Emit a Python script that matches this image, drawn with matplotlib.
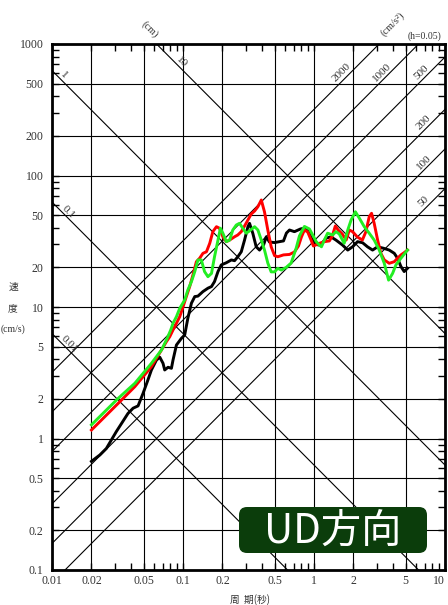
import matplotlib
matplotlib.use("Agg")
import matplotlib.pyplot as plt
import numpy as np
from matplotlib.patches import FancyBboxPatch
from matplotlib.ticker import FixedLocator, LogLocator, NullFormatter
from matplotlib.transforms import IdentityTransform

# response spectra (period [s], pseudo velocity [cm/s])
black_T = [0.02, 0.0232, 0.026, 0.031, 0.038, 0.0416, 0.0454, 0.0496, 0.054, 0.0574,
           0.0627, 0.0665, 0.0704, 0.0725, 0.0769, 0.0816, 0.0839, 0.0891, 0.0973, 0.103,
           0.109, 0.116, 0.123, 0.130, 0.142, 0.155, 0.165, 0.174, 0.185, 0.196,
           0.214, 0.234, 0.2475, 0.262, 0.2785, 0.295, 0.313, 0.322, 0.341, 0.362,
           0.384, 0.412, 0.432, 0.457, 0.50, 0.545, 0.585, 0.616, 0.65, 0.709,
           0.788, 0.855, 0.906, 0.955, 1.007, 1.08, 1.14, 1.24, 1.35, 1.47,
           1.65, 1.81, 1.97, 2.15, 2.35, 2.56, 2.80, 3.06, 3.38, 3.75,
           4.10, 4.34, 4.61, 4.88, 5.17]
black_SV = [0.67, 0.75, 0.84, 1.13, 1.55, 1.70, 1.77, 2.21, 2.79, 3.32,
            3.95, 4.15, 3.73, 3.32, 3.48, 3.42, 3.95, 5.14, 5.78, 6.12,
            8.25, 10.7, 12.0, 12.1, 13.1, 13.9, 14.3, 15.6, 18.6, 20.9,
            21.7, 22.8, 22.5, 24.1, 26.3, 32.3, 40.8, 43.3, 36.4, 28.7,
            27.1, 29.6, 34.2, 31.2, 30.9, 31.4, 31.8, 36.5, 38.5, 37.4,
            39.2, 39.9, 37.4, 33.5, 30.7, 29.6, 30.1, 33.5, 34.1, 32.3,
            29.6, 27.1, 28.7, 31.4, 30.8, 28.7, 27.1, 28.7, 28.0, 27.1,
            25.6, 23.5, 20.3, 18.6, 19.7]

red_T = [0.02, 0.032, 0.0429, 0.0574, 0.0685, 0.0747, 0.0792, 0.0839, 0.0891, 0.0944,
         0.1, 0.106, 0.1125, 0.119, 0.1265, 0.134, 0.142, 0.151, 0.160, 0.169,
         0.180, 0.190, 0.2016, 0.214, 0.227, 0.2475, 0.262, 0.2785, 0.295, 0.313,
         0.332, 0.352, 0.373, 0.396, 0.419, 0.444, 0.471, 0.50, 0.529, 0.585,
         0.65, 0.709, 0.761, 0.802, 0.845, 0.895, 0.95, 0.99, 1.10, 1.20,
         1.31, 1.38, 1.455, 1.53, 1.645, 1.76, 1.86, 1.97, 2.14, 2.34,
         2.49, 2.64, 2.75, 2.88, 3.06, 3.24, 3.44, 3.75, 4.10, 4.34,
         4.61, 4.88, 5.17]
red_SV = [1.16, 1.85, 2.48, 3.52, 4.71, 5.45, 5.94, 6.69, 7.52, 8.44,
          10.0, 12.0, 14.3, 17.5, 22.1, 23.5, 25.6, 26.3, 30.5, 37.4,
          40.8, 39.7, 34.2, 31.4, 32.3, 34.2, 35.3, 37.4, 41.3, 45.9,
          51.0, 53.7, 57.9, 65.1, 52.8, 38.5, 28.7, 24.6, 24.1, 24.9,
          25.1, 26.2, 29.1, 34.1, 38.5, 37.2, 32.3, 29.1, 30.5, 31.4,
          31.8, 34.7, 41.3, 38.5, 35.9, 32.3, 38.5, 37.4, 34.1, 32.3,
          37.4, 48.6, 51.6, 43.3, 32.3, 25.6, 22.8, 21.5, 22.1, 23.5,
          24.9, 25.9, 27.1]

green_T = [0.02, 0.032, 0.0429, 0.0574, 0.0685, 0.0747, 0.0806, 0.0839, 0.0891, 0.0944,
           0.103, 0.109, 0.116, 0.123, 0.130, 0.138, 0.146, 0.155, 0.165, 0.174,
           0.185, 0.193, 0.2016, 0.214, 0.227, 0.240, 0.255, 0.270, 0.286, 0.304,
           0.322, 0.352, 0.373, 0.396, 0.419, 0.444, 0.471, 0.50, 0.529, 0.562,
           0.613, 0.669, 0.731, 0.774, 0.845, 0.923, 0.977, 1.04, 1.10, 1.14,
           1.20, 1.27, 1.39, 1.47, 1.56, 1.70, 1.81, 1.92, 2.07, 2.22,
           2.42, 2.64, 2.88, 3.15, 3.44, 3.71, 3.98, 4.22, 4.61, 5.17]
green_SV = [1.27, 2.02, 2.63, 3.73, 4.71, 5.61, 6.69, 7.52, 8.44, 9.77,
            11.3, 13.5, 15.6, 18.6, 22.8, 22.8, 18.6, 17.0, 18.0, 24.1,
            32.3, 39.7, 36.4, 31.4, 32.3, 38.5, 42.0, 43.3, 39.7, 36.4,
            37.9, 40.8, 38.5, 32.3, 27.1, 21.6, 18.5, 18.5, 19.7, 19.1,
            20.0, 21.6, 28.0, 34.7, 41.0, 39.2, 35.3, 31.4, 29.6, 28.7,
            32.3, 36.4, 35.3, 37.4, 35.9, 30.5, 38.5, 45.9, 53.0, 47.3,
            40.8, 36.4, 32.3, 27.1, 21.5, 16.0, 18.0, 20.9, 23.5, 27.1]

# axes ticks and tripartite grid
x_ticks = [0.01, 0.02, 0.05, 0.1, 0.2, 0.5, 1, 2, 5, 10]
x_labels = ["0.01", "0.02", "0.05", "0.1", "0.2", "0.5", "1", "2", "5", "10"]
y_ticks = [0.1, 0.2, 0.5, 1, 2, 5, 10, 20, 50, 100, 200, 500, 1000]
y_labels = ["0.1", "0.2", "0.5", "1", "2", "5", "10", "20", "50", "100", "200", "500", "1000"]
disp_cm = [0.01, 0.1, 1, 10]
disp_label_T = [0.0128, 0.0126, 0.0115, 0.092]
acc_gal = [50, 100, 200, 500, 1000, 2000]
acc_label_T = [7.4, 7.4, 7.4, 7.1, 3.55, 1.76]

SERIF = "Liberation Serif"
CJK = ["Noto Sans CJK JP", "DejaVu Sans"]
TXT = "#333333"

W, H = 448, 605
fig = plt.figure(figsize=(W / 100, H / 100), dpi=100)
ax = fig.add_axes([52 / W, 1 - 570 / H, 393 / W, 526 / H])
ax.set_xscale("log")
ax.set_yscale("log")
ax.set_xlim(0.01, 10)
ax.set_ylim(0.1, 1000)

# diagonal lines: displacement (SV = 2piD/T) and acceleration (SV = AT/2pi)
T_line = np.array([0.01, 10.0])
for d in disp_cm:
    ax.plot(T_line, 2 * np.pi * d / T_line, color="black", lw=0.8, zorder=1)
for a in acc_gal:
    ax.plot(T_line, a * T_line / (2 * np.pi), color="black", lw=0.8, zorder=1)

for d, t in zip(disp_cm, disp_label_T):
    ax.annotate(f"{d:g}", xy=(t, 2 * np.pi * d / t), xytext=(2.5, 2.5),
                textcoords="offset points", rotation=-45, rotation_mode="anchor",
                ha="center", va="center", fontsize=8, family=SERIF, color=TXT)
for a, t in zip(acc_gal, acc_label_T):
    ax.annotate(f"{a:g}", xy=(t, a * t / (2 * np.pi)), xytext=(-3, 3),
                textcoords="offset points", rotation=45, rotation_mode="anchor",
                ha="center", va="center", fontsize=8, family=SERIF, color=TXT)

# spectra
ax.plot(black_T, black_SV, color="black", lw=2.1, zorder=3, solid_joinstyle="round")
ax.plot(red_T, red_SV, color="#ff0000", lw=2.1, zorder=4, solid_joinstyle="round")
ax.plot(green_T, green_SV, color="#22ee22", lw=2.1, zorder=5, solid_joinstyle="round")

ax.xaxis.set_major_locator(FixedLocator(x_ticks))
ax.yaxis.set_major_locator(FixedLocator(y_ticks))
ax.set_xticklabels(x_labels, family=SERIF, fontsize=8.5, color=TXT)
ax.set_yticklabels(y_labels, family=SERIF, fontsize=8.5, color=TXT)
ax.get_xticklabels()[-1].set_ha("right")
ax.xaxis.set_minor_locator(LogLocator(base=10, subs=(3, 4, 6, 7, 8, 9)))
ax.yaxis.set_minor_locator(LogLocator(base=10, subs=(3, 4, 6, 7, 8, 9)))
ax.xaxis.set_minor_formatter(NullFormatter())
ax.yaxis.set_minor_formatter(NullFormatter())
ax.tick_params(which="both", direction="in", top=True, right=True,
               length=5, width=1.0, color="black")
ax.tick_params(axis="x", which="major", pad=3.5)
ax.tick_params(axis="y", which="major", pad=6)
ax.grid(True, which="major", color="black", lw=0.8)
ax.set_axisbelow(True)
for s in ax.spines.values():
    s.set_linewidth(2)

# unit labels
fig.text(150 / W, 1 - 29 / H, "(cm)", rotation=-45, ha="center", va="center",
         fontsize=7.5, family=SERIF, color=TXT)
fig.text(393 / W, 1 - 24 / H, "(cm/s²)", rotation=45, ha="center", va="center",
         fontsize=7.5, family=SERIF, color=TXT)
fig.text(424 / W, 1 - 36 / H, "(h=0.05)", ha="center", va="center",
         fontsize=7, family=SERIF, color=TXT)

fig.text(13 / W, 1 - 287 / H, "速", ha="center", va="center", fontsize=7, family=CJK, color=TXT)
fig.text(13 / W, 1 - 308 / H, "度", ha="center", va="center", fontsize=7, family=CJK, color=TXT)
fig.text(1 / W, 1 - 329 / H, "(cm/s)", ha="left", va="center", fontsize=7,
         family=SERIF, color=TXT)
fig.text(250 / W, 1 - 600 / H, "周  期(秒)", ha="center", va="center", fontsize=7,
         family=CJK, color=TXT)

# direction badge
badge = FancyBboxPatch((239, H - 553), 188, 46, boxstyle="round,pad=0,rounding_size=8",
                       transform=IdentityTransform(), facecolor="#0b3d0b",
                       edgecolor="none", zorder=10)
fig.add_artist(badge)
fig.text(333 / W, 1 - 531 / H, "UD方向", ha="center", va="center", fontsize=29,
         family=CJK, color="white", zorder=11)

fig.savefig("out.png", dpi=100)
